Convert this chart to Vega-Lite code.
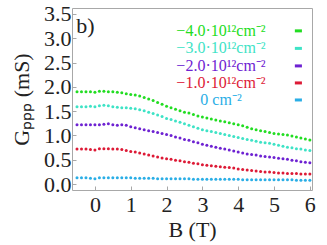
{
 "$schema": "https://vega.github.io/schema/vega-lite/v6.json",
 "width": 240, "height": 182,
 "autosize": {"type": "none"},
 "padding": {"left": 72, "top": 8, "right": 15, "bottom": 55},
 "background": "white",
 "config": {
  "view": {"stroke": "#a8a8a8", "strokeWidth": 1},
  "font": "Liberation Serif",
  "axis": {"grid": false, "domain": false, "tickColor": "#a8a8a8", "tickSize": -4, "labelOverlap": false}
 },
 "datasets": {
  "d": [
{"B":-0.5,"s":"a","G":1.90},{"B":-0.375,"s":"a","G":1.90},{"B":-0.25,"s":"a","G":1.90},{"B":-0.125,"s":"a","G":1.90},{"B":0,"s":"a","G":1.89},{"B":0.125,"s":"a","G":1.91},{"B":0.25,"s":"a","G":1.91},{"B":0.375,"s":"a","G":1.90},{"B":0.5,"s":"a","G":1.90},{"B":0.625,"s":"a","G":1.89},{"B":0.75,"s":"a","G":1.88},{"B":0.875,"s":"a","G":1.86},{"B":1,"s":"a","G":1.84},
{"B":1.125,"s":"a","G":1.83},{"B":1.25,"s":"a","G":1.81},{"B":1.375,"s":"a","G":1.78},{"B":1.5,"s":"a","G":1.75},{"B":1.625,"s":"a","G":1.72},{"B":1.75,"s":"a","G":1.68},{"B":1.875,"s":"a","G":1.64},{"B":2,"s":"a","G":1.60},
{"B":2.125,"s":"a","G":1.57},{"B":2.25,"s":"a","G":1.54},{"B":2.375,"s":"a","G":1.51},{"B":2.5,"s":"a","G":1.48},{"B":2.625,"s":"a","G":1.46},{"B":2.75,"s":"a","G":1.43},{"B":2.875,"s":"a","G":1.40},{"B":3,"s":"a","G":1.38},
{"B":3.125,"s":"a","G":1.36},{"B":3.25,"s":"a","G":1.34},{"B":3.375,"s":"a","G":1.32},{"B":3.5,"s":"a","G":1.30},{"B":3.625,"s":"a","G":1.28},{"B":3.75,"s":"a","G":1.26},{"B":3.875,"s":"a","G":1.24},{"B":4,"s":"a","G":1.22},
{"B":4.125,"s":"a","G":1.20},{"B":4.25,"s":"a","G":1.17},{"B":4.375,"s":"a","G":1.14},{"B":4.5,"s":"a","G":1.12},{"B":4.625,"s":"a","G":1.10},{"B":4.75,"s":"a","G":1.08},{"B":4.875,"s":"a","G":1.06},{"B":5,"s":"a","G":1.04},
{"B":5.125,"s":"a","G":1.03},{"B":5.25,"s":"a","G":1.02},{"B":5.375,"s":"a","G":1.01},{"B":5.5,"s":"a","G":0.99},{"B":5.625,"s":"a","G":0.97},{"B":5.75,"s":"a","G":0.95},{"B":5.875,"s":"a","G":0.93},{"B":6,"s":"a","G":0.91},

{"B":-0.5,"s":"b","G":1.59},{"B":-0.375,"s":"b","G":1.59},{"B":-0.25,"s":"b","G":1.59},{"B":-0.125,"s":"b","G":1.60},{"B":0,"s":"b","G":1.59},{"B":0.125,"s":"b","G":1.61},{"B":0.25,"s":"b","G":1.62},{"B":0.375,"s":"b","G":1.61},{"B":0.5,"s":"b","G":1.59},{"B":0.625,"s":"b","G":1.58},{"B":0.75,"s":"b","G":1.57},{"B":0.875,"s":"b","G":1.57},{"B":1,"s":"b","G":1.56},
{"B":1.125,"s":"b","G":1.55},{"B":1.25,"s":"b","G":1.53},{"B":1.375,"s":"b","G":1.51},{"B":1.5,"s":"b","G":1.48},{"B":1.625,"s":"b","G":1.45},{"B":1.75,"s":"b","G":1.42},{"B":1.875,"s":"b","G":1.39},{"B":2,"s":"b","G":1.35},
{"B":2.125,"s":"b","G":1.33},{"B":2.25,"s":"b","G":1.30},{"B":2.375,"s":"b","G":1.27},{"B":2.5,"s":"b","G":1.24},{"B":2.625,"s":"b","G":1.21},{"B":2.75,"s":"b","G":1.18},{"B":2.875,"s":"b","G":1.15},{"B":3,"s":"b","G":1.12},
{"B":3.125,"s":"b","G":1.10},{"B":3.25,"s":"b","G":1.08},{"B":3.375,"s":"b","G":1.06},{"B":3.5,"s":"b","G":1.04},{"B":3.625,"s":"b","G":1.02},{"B":3.75,"s":"b","G":1.00},{"B":3.875,"s":"b","G":0.98},{"B":4,"s":"b","G":0.96},
{"B":4.125,"s":"b","G":0.94},{"B":4.25,"s":"b","G":0.92},{"B":4.375,"s":"b","G":0.90},{"B":4.5,"s":"b","G":0.88},{"B":4.625,"s":"b","G":0.86},{"B":4.75,"s":"b","G":0.85},{"B":4.875,"s":"b","G":0.84},{"B":5,"s":"b","G":0.82},
{"B":5.125,"s":"b","G":0.80},{"B":5.25,"s":"b","G":0.78},{"B":5.375,"s":"b","G":0.76},{"B":5.5,"s":"b","G":0.75},{"B":5.625,"s":"b","G":0.73},{"B":5.75,"s":"b","G":0.72},{"B":5.875,"s":"b","G":0.70},{"B":6,"s":"b","G":0.69},

{"B":-0.5,"s":"c","G":1.22},{"B":-0.375,"s":"c","G":1.22},{"B":-0.25,"s":"c","G":1.22},{"B":-0.125,"s":"c","G":1.22},{"B":0,"s":"c","G":1.22},{"B":0.125,"s":"c","G":1.22},{"B":0.25,"s":"c","G":1.23},{"B":0.375,"s":"c","G":1.24},{"B":0.5,"s":"c","G":1.22},{"B":0.625,"s":"c","G":1.21},{"B":0.75,"s":"c","G":1.22},{"B":0.875,"s":"c","G":1.21},{"B":1,"s":"c","G":1.18},
{"B":1.125,"s":"c","G":1.16},{"B":1.25,"s":"c","G":1.14},{"B":1.375,"s":"c","G":1.12},{"B":1.5,"s":"c","G":1.10},{"B":1.625,"s":"c","G":1.08},{"B":1.75,"s":"c","G":1.06},{"B":1.875,"s":"c","G":1.04},{"B":2,"s":"c","G":1.02},
{"B":2.125,"s":"c","G":1.00},{"B":2.25,"s":"c","G":0.97},{"B":2.375,"s":"c","G":0.95},{"B":2.5,"s":"c","G":0.92},{"B":2.625,"s":"c","G":0.90},{"B":2.75,"s":"c","G":0.87},{"B":2.875,"s":"c","G":0.85},{"B":3,"s":"c","G":0.82},
{"B":3.125,"s":"c","G":0.80},{"B":3.25,"s":"c","G":0.78},{"B":3.375,"s":"c","G":0.76},{"B":3.5,"s":"c","G":0.74},{"B":3.625,"s":"c","G":0.72},{"B":3.75,"s":"c","G":0.70},{"B":3.875,"s":"c","G":0.68},{"B":4,"s":"c","G":0.66},
{"B":4.125,"s":"c","G":0.64},{"B":4.25,"s":"c","G":0.62},{"B":4.375,"s":"c","G":0.61},{"B":4.5,"s":"c","G":0.60},{"B":4.625,"s":"c","G":0.58},{"B":4.75,"s":"c","G":0.57},{"B":4.875,"s":"c","G":0.56},{"B":5,"s":"c","G":0.55},
{"B":5.125,"s":"c","G":0.53},{"B":5.25,"s":"c","G":0.52},{"B":5.375,"s":"c","G":0.51},{"B":5.5,"s":"c","G":0.49},{"B":5.625,"s":"c","G":0.48},{"B":5.75,"s":"c","G":0.46},{"B":5.875,"s":"c","G":0.45},{"B":6,"s":"c","G":0.44},

{"B":-0.5,"s":"d","G":0.72},{"B":-0.375,"s":"d","G":0.72},{"B":-0.25,"s":"d","G":0.72},{"B":-0.125,"s":"d","G":0.71},{"B":0,"s":"d","G":0.70},{"B":0.125,"s":"d","G":0.73},{"B":0.25,"s":"d","G":0.73},{"B":0.375,"s":"d","G":0.73},{"B":0.5,"s":"d","G":0.72},{"B":0.625,"s":"d","G":0.72},{"B":0.75,"s":"d","G":0.71},{"B":0.875,"s":"d","G":0.69},{"B":1,"s":"d","G":0.67},
{"B":1.125,"s":"d","G":0.66},{"B":1.25,"s":"d","G":0.64},{"B":1.375,"s":"d","G":0.62},{"B":1.5,"s":"d","G":0.60},{"B":1.625,"s":"d","G":0.58},{"B":1.75,"s":"d","G":0.56},{"B":1.875,"s":"d","G":0.54},{"B":2,"s":"d","G":0.52},
{"B":2.125,"s":"d","G":0.51},{"B":2.25,"s":"d","G":0.49},{"B":2.375,"s":"d","G":0.48},{"B":2.5,"s":"d","G":0.46},{"B":2.625,"s":"d","G":0.45},{"B":2.75,"s":"d","G":0.43},{"B":2.875,"s":"d","G":0.42},{"B":3,"s":"d","G":0.40},
{"B":3.125,"s":"d","G":0.39},{"B":3.25,"s":"d","G":0.38},{"B":3.375,"s":"d","G":0.37},{"B":3.5,"s":"d","G":0.36},{"B":3.625,"s":"d","G":0.35},{"B":3.75,"s":"d","G":0.34},{"B":3.875,"s":"d","G":0.33},{"B":4,"s":"d","G":0.31},
{"B":4.125,"s":"d","G":0.30},{"B":4.25,"s":"d","G":0.29},{"B":4.375,"s":"d","G":0.28},{"B":4.5,"s":"d","G":0.27},{"B":4.625,"s":"d","G":0.26},{"B":4.75,"s":"d","G":0.25},{"B":4.875,"s":"d","G":0.25},{"B":5,"s":"d","G":0.24},
{"B":5.125,"s":"d","G":0.23},{"B":5.25,"s":"d","G":0.23},{"B":5.375,"s":"d","G":0.22},{"B":5.5,"s":"d","G":0.22},{"B":5.625,"s":"d","G":0.22},{"B":5.75,"s":"d","G":0.21},{"B":5.875,"s":"d","G":0.21},{"B":6,"s":"d","G":0.21},

{"B":-0.5,"s":"e","G":0.13},{"B":-0.375,"s":"e","G":0.13},{"B":-0.25,"s":"e","G":0.13},{"B":-0.125,"s":"e","G":0.12},{"B":0,"s":"e","G":0.11},{"B":0.125,"s":"e","G":0.13},{"B":0.25,"s":"e","G":0.13},{"B":0.375,"s":"e","G":0.13},{"B":0.5,"s":"e","G":0.13},{"B":0.625,"s":"e","G":0.13},{"B":0.75,"s":"e","G":0.13},{"B":0.875,"s":"e","G":0.13},{"B":1,"s":"e","G":0.13},
{"B":1.125,"s":"e","G":0.12},{"B":1.25,"s":"e","G":0.12},{"B":1.375,"s":"e","G":0.12},{"B":1.5,"s":"e","G":0.12},{"B":1.625,"s":"e","G":0.12},{"B":1.75,"s":"e","G":0.11},{"B":1.875,"s":"e","G":0.11},{"B":2,"s":"e","G":0.11},
{"B":2.125,"s":"e","G":0.11},{"B":2.25,"s":"e","G":0.11},{"B":2.375,"s":"e","G":0.11},{"B":2.5,"s":"e","G":0.11},{"B":2.625,"s":"e","G":0.11},{"B":2.75,"s":"e","G":0.10},{"B":2.875,"s":"e","G":0.10},{"B":3,"s":"e","G":0.10},
{"B":3.125,"s":"e","G":0.10},{"B":3.25,"s":"e","G":0.10},{"B":3.375,"s":"e","G":0.10},{"B":3.5,"s":"e","G":0.10},{"B":3.625,"s":"e","G":0.10},{"B":3.75,"s":"e","G":0.10},{"B":3.875,"s":"e","G":0.10},{"B":4,"s":"e","G":0.10},
{"B":4.125,"s":"e","G":0.09},{"B":4.25,"s":"e","G":0.09},{"B":4.375,"s":"e","G":0.09},{"B":4.5,"s":"e","G":0.09},{"B":4.625,"s":"e","G":0.09},{"B":4.75,"s":"e","G":0.09},{"B":4.875,"s":"e","G":0.09},{"B":5,"s":"e","G":0.09},
{"B":5.125,"s":"e","G":0.09},{"B":5.25,"s":"e","G":0.09},{"B":5.375,"s":"e","G":0.09},{"B":5.5,"s":"e","G":0.09},{"B":5.625,"s":"e","G":0.08},{"B":5.75,"s":"e","G":0.08},{"B":5.875,"s":"e","G":0.08},{"B":6,"s":"e","G":0.08}
  ],
  "legtext": [
   {"s": "a", "label": "−4.0·10¹²cm⁻²", "B": 3.52, "G": 3.15},
   {"s": "b", "label": "−3.0·10¹²cm⁻²", "B": 3.52, "G": 2.79},
   {"s": "c", "label": "−2.0·10¹²cm⁻²", "B": 3.52, "G": 2.43},
   {"s": "d", "label": "−1.0·10¹²cm⁻²", "B": 3.52, "G": 2.08},
   {"s": "e", "label": "0 cm⁻²", "B": 3.52, "G": 1.73}
  ],
  "legdash": [
   {"s": "a", "B": 5.68, "G": 3.15},
   {"s": "b", "B": 5.68, "G": 2.79},
   {"s": "c", "B": 5.68, "G": 2.43},
   {"s": "d", "B": 5.68, "G": 2.08},
   {"s": "e", "B": 5.68, "G": 1.73}
  ],
  "panel": [{"B": -0.52, "G": 3.25, "t": "b)"}]
 },
 "encoding": {
  "x": {"field": "B", "type": "quantitative", "scale": {"domain": [-0.64, 6.06], "nice": false, "zero": false},
    "axis": {"values": [0, 1, 2, 3, 4, 5, 6], "title": "B (T)", "labelPadding": 8, "titlePadding": 4, "labelOverlap": false, "labelFont": "Liberation Serif", "titleFont": "Liberation Serif", "labelFontSize": 22, "titleFontSize": 22, "labelColor": "#222", "titleColor": "#222", "titleFontWeight": "normal",
      "encode": {"labels": {"update": {"font": {"value": "Liberation Serif"}, "fontSize": {"value": 22}, "fill": {"value": "#222"}}}}}},
  "y": {"field": "G", "type": "quantitative", "scale": {"domain": [-0.12, 3.62], "nice": false, "zero": false},
    "axis": {"values": [0, 0.5, 1, 1.5, 2, 2.5, 3, 3.5], "format": ".1f", "title": "Gₚₚₚ (mS)", "labelPadding": 5, "titlePadding": 10, "labelOverlap": false, "labelFont": "Liberation Serif", "titleFont": "Liberation Serif", "labelFontSize": 22, "titleFontSize": 22, "labelColor": "#222", "titleColor": "#222", "titleFontWeight": "normal",
      "encode": {"labels": {"update": {"font": {"value": "Liberation Serif"}, "fontSize": {"value": 22}, "fill": {"value": "#222"}}}}}}
 },
 "layer": [
  {
   "data": {"name": "d"},
   "mark": {"type": "point", "filled": true, "size": 9, "opacity": 1},
   "encoding": {
    "color": {"field": "s", "type": "nominal", "scale": {"domain": ["a", "b", "c", "d", "e"], "range": ["#22dd22", "#3ee3c6", "#6e22d2", "#dd1a36", "#2aaee6"]}, "legend": null}
   }
  },
  {
   "data": {"name": "legtext"},
   "mark": {"type": "text", "fontSize": 16, "align": "center", "baseline": "middle", "font": "Liberation Serif"},
   "encoding": {
    "text": {"field": "label"},
    "color": {"field": "s", "type": "nominal", "legend": null}
   }
  },
  {
   "data": {"name": "legdash"},
   "mark": {"type": "point", "shape": "stroke", "filled": false, "strokeWidth": 3, "size": 50, "opacity": 1},
   "encoding": {
    "color": {"field": "s", "type": "nominal", "legend": null}
   }
  },
  {
   "data": {"name": "panel"},
   "mark": {"type": "text", "fontSize": 22, "align": "left", "baseline": "middle", "color": "#222", "font": "Liberation Serif"},
   "encoding": {
    "text": {"field": "t"}
   }
  }
 ]
}
